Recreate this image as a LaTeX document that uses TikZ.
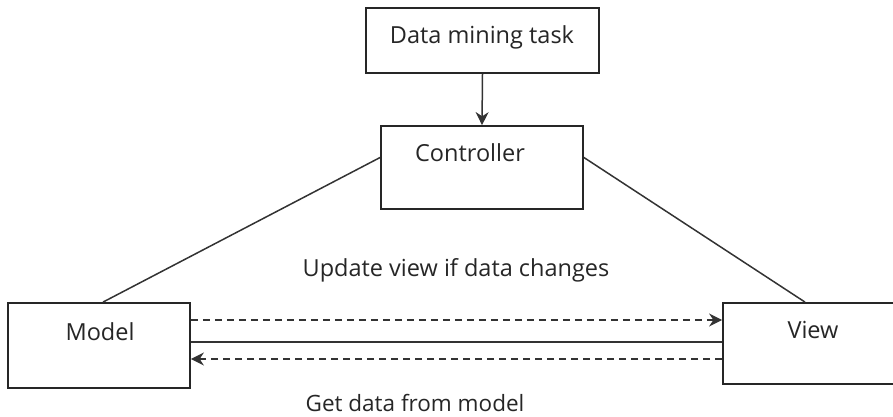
\documentclass[tikz,border=0pt]{standalone}
\usepackage{fontspec}
\setmainfont{Open Sans}
\usetikzlibrary{arrows.meta}
\begin{document}
\begin{tikzpicture}[x=1pt,y=1pt,
  box/.style={draw=black!85,line width=1.8pt,fill=white,inner sep=0pt},
  lbl/.style={font=\fontsize{23.5}{26}\selectfont,text=black!85},
  conn/.style={draw=black!80,line width=1.5pt},
  dashconn/.style={conn,dash pattern=on 7pt off 5pt},
  tip/.style={-{Stealth[length=13pt,width=13pt]}}]
\useasboundingbox (0,0) rectangle (893,417);
% boxes (y = 417 - pixel y)
\node[box,minimum width=233pt,minimum height=65pt] (task) at (482.5,376.5) {};
\node[lbl] (tasktxt) at (482,380) {Data mining task};
\node[box,minimum width=202pt,minimum height=83pt] (ctrl) at (482,249.5) {};
\node[lbl] (ctrltxt) at (470,264) {Controller};
\node[box,minimum width=182pt,minimum height=85pt] (model) at (99,71.5) {};
\node[lbl] (modeltxt) at (100,85) {Model};
\node[box,minimum width=172pt,minimum height=81pt] (view) at (809,73.5) {};
\node[lbl] (viewtxt) at (813,87) {View};
% labels
\node[lbl] (upd) at (456,147) {Update view if data changes};
\node[lbl,font=\fontsize{22.5}{25}\selectfont] (get) at (415,14) {Get data from model};
% connectors
\draw[conn,tip] (task.south) -- (ctrl.north);
\coordinate (mtop) at ([xshift=4pt]model.north);
\coordinate (vtop) at ([xshift=-4pt]view.north);
\draw[conn] ([yshift=10pt]ctrl.west) -- (mtop);
\draw[conn] ([yshift=10pt]ctrl.east) -- (vtop);
\draw[dashconn,tip] ([yshift=25.5pt]model.east) -- ([yshift=25.5pt]model.east -| view.west);
\draw[conn] ([yshift=3.5pt]model.east) -- ([yshift=3.5pt]model.east -| view.west);
\draw[dashconn,tip] ([yshift=-13.5pt]model.east -| view.west) -- ([yshift=-13.5pt]model.east);
\end{tikzpicture}
\end{document}
